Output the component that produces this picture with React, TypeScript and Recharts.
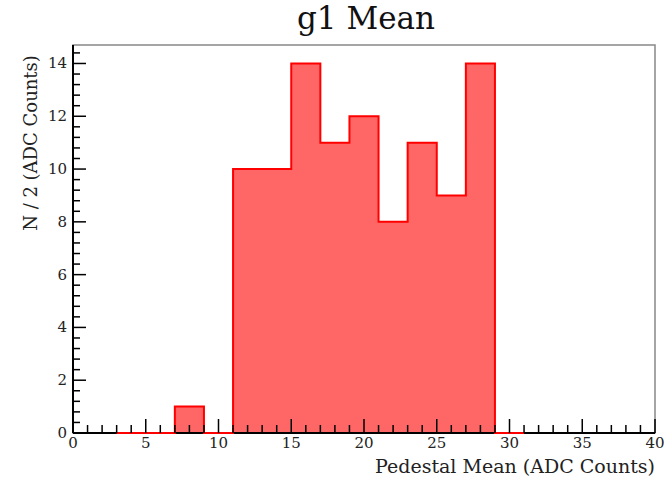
import React from "react";
import {
  ComposedChart,
  Area,
  Line,
  XAxis,
  YAxis,
  ReferenceArea,
} from "recharts";

// left bin edges (width 2) and entries per bin
const binEdges = [3, 5, 7, 9, 11, 13, 15, 17, 19, 21, 23, 25, 27, 29, 31];
const counts = [0, 0, 1, 0, 10, 10, 14, 11, 12, 8, 11, 9, 14, 0, 0];

const xTicks = Array.from({ length: 41 }, (_, i) => i);
const xLabels = [0, 5, 10, 15, 20, 25, 30, 35, 40];
const yLabels = [0, 2, 4, 6, 8, 10, 12, 14];
const yTicks = Array.from({ length: 37 }, (_, i) => Math.round(i * 4) / 10);

const FONT = "'DejaVu Serif', serif";

const histData = binEdges.map((x, i) => ({ x, n: counts[i] }));

function XTick({ x, y, payload }: any) {
  const v = payload.value;
  const major = xLabels.includes(v);
  return (
    <g>
      <line x1={x} x2={x} y1={y} y2={y - (major ? 14 : 8)} stroke="#000" strokeWidth={1.5} />
      {major && (
        <text x={x} y={y + 15} textAnchor="middle" fontSize={15} fontFamily={FONT} fill="#222">
          {v}
        </text>
      )}
    </g>
  );
}

function YTick({ x, y, payload }: any) {
  const v = payload.value;
  const major = yLabels.includes(v);
  return (
    <g>
      <line x1={x} x2={x + (major ? 13 : 7)} y1={y} y2={y} stroke="#000" strokeWidth={1.5} />
      {major && (
        <text x={x - 6} y={y + 5} textAnchor="end" fontSize={15} fontFamily={FONT} fill="#222">
          {v}
        </text>
      )}
    </g>
  );
}

export default function App() {
  return (
    <div style={{ position: "absolute", left: 0, top: 0, width: 664, height: 480, background: "#fff", fontFamily: FONT }}>
      <div style={{ position: "absolute", left: 0, width: 732, top: 0, textAlign: "center", fontSize: 31, color: "#111" }}>
        g1 Mean
      </div>
      <div
        style={{
          position: "absolute",
          left: 30,
          top: 143,
          transform: "translate(-50%, -50%) rotate(-90deg)",
          whiteSpace: "nowrap",
          fontSize: 18,
          color: "#222",
        }}
      >
        N / 2 (ADC Counts)
      </div>
      <div style={{ position: "absolute", right: 9, top: 455, fontSize: 19, color: "#222", whiteSpace: "nowrap" }}>
        Pedestal Mean (ADC Counts)
      </div>
      <ComposedChart
        width={664}
        height={480}
        data={histData}
        margin={{ top: 45, right: 9, left: 13, bottom: 17 }}
      >
        <ReferenceArea x1={0} x2={40} y1={0} y2={14.7} fill="none" stroke="#888" strokeWidth={1.5} />
        <XAxis
          dataKey="x"
          type="number"
          domain={[0, 40]}
          ticks={xTicks}
          interval={0}
          height={30}
          tickSize={0}
          tickMargin={0}
          tickLine={false}
          axisLine={{ stroke: "#000", strokeWidth: 2 }}
          tick={<XTick />}
        />
        <YAxis
          type="number"
          domain={[0, 14.7]}
          ticks={yTicks}
          interval={0}
          width={60}
          tickSize={0}
          tickMargin={0}
          tickLine={false}
          axisLine={{ stroke: "#000", strokeWidth: 2 }}
          tick={<YTick />}
        />
        <Area
          type="stepAfter"
          dataKey="n"
          stroke="none"
          fill="#ff0000"
          fillOpacity={0.6}
          isAnimationActive={false}
          dot={false}
          activeDot={false}
        />
        <Line
          type="stepAfter"
          dataKey="n"
          stroke="#ff0000"
          strokeWidth={2}
          isAnimationActive={false}
          dot={false}
          activeDot={false}
          zIndex={900}
        />
      </ComposedChart>
    </div>
  );
}
